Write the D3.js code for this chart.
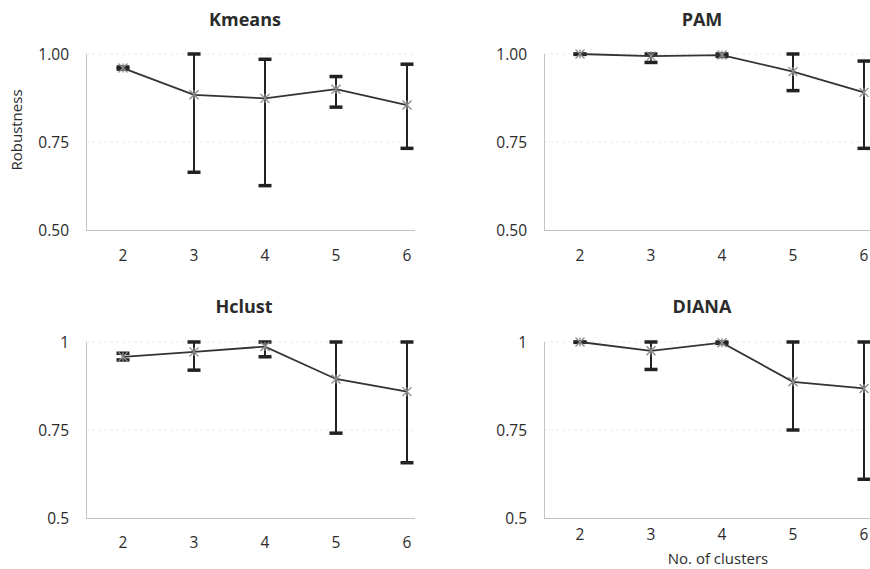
<!DOCTYPE html>
<html>
<head>
<meta charset="utf-8">
<script src="https://cdn.jsdelivr.net/npm/d3@7"></script>
<style>
  html, body { margin: 0; padding: 0; background: #fff; }
  svg { display: block; }
  text { font-family: "Open Sans", "Noto Sans", sans-serif; fill: #2b2b2b; }
</style>
</head>
<body>
<svg id="chart" width="870" height="569"></svg>
<script>
// Number of clusters on the x axis
const clusters = [2, 3, 4, 5, 6];

// Robustness (mean, lower and upper bound) per clustering method
const kmeansMean = [0.960, 0.884, 0.874, 0.900, 0.855];
const kmeansLow  = [0.957, 0.664, 0.626, 0.849, 0.732];
const kmeansHigh = [0.963, 1.000, 0.985, 0.936, 0.971];

const pamMean = [1.000, 0.994, 0.997, 0.950, 0.891];
const pamLow  = [0.999, 0.976, 0.993, 0.896, 0.732];
const pamHigh = [1.000, 1.000, 1.000, 1.000, 0.980];

const hclustMean = [0.958, 0.972, 0.987, 0.895, 0.859];
const hclustLow  = [0.949, 0.920, 0.958, 0.741, 0.657];
const hclustHigh = [0.968, 1.000, 1.000, 1.000, 1.000];

const dianaMean = [1.000, 0.975, 0.998, 0.887, 0.868];
const dianaLow  = [0.999, 0.922, 0.996, 0.750, 0.610];
const dianaHigh = [1.000, 1.000, 1.000, 1.000, 1.000];

// Y tick values and their printed labels
const yTicks = [0.5, 0.75, 1.0];
const yLabelsTop = ["0.50", "0.75", "1.00"];
const yLabelsBottom = ["0.5", "0.75", "1"];

const titles = ["Kmeans", "PAM", "Hclust", "DIANA"];

const svg = d3.select("#chart");

// Panel frames: plot box (left axis x, right end, top y of 1.0, bottom y of 0.5)
const panels = [
  { title: titles[0], mean: kmeansMean, low: kmeansLow, high: kmeansHigh, labels: yLabelsTop,
    left: 86, right: 415, x0: 123, x1: 407, top: 54, bottom: 230, titleX: 245, titleY: 26, xLabY: 261 },
  { title: titles[1], mean: pamMean, low: pamLow, high: pamHigh, labels: yLabelsTop,
    left: 544, right: 875, x0: 580, x1: 864, top: 54, bottom: 230, titleX: 702, titleY: 26, xLabY: 261 },
  { title: titles[2], mean: hclustMean, low: hclustLow, high: hclustHigh, labels: yLabelsBottom,
    left: 86, right: 415, x0: 123, x1: 407, top: 342, bottom: 518, titleX: 244, titleY: 313, xLabY: 548 },
  { title: titles[3], mean: dianaMean, low: dianaLow, high: dianaHigh, labels: yLabelsBottom,
    left: 544, right: 875, x0: 580, x1: 864, top: 342, bottom: 518, titleX: 702, titleY: 313, xLabY: 540 }
];

panels.forEach(p => {
  const g = svg.append("g");
  const x = d3.scalePoint().domain(clusters).range([p.x0, p.x1]);
  const y = d3.scaleLinear().domain([0.5, 1.0]).range([p.bottom, p.top]);

  // dashed gridlines at 0.75 and 1.0
  g.selectAll("line.grid").data(yTicks.slice(1)).join("line")
    .attr("class", "grid")
    .attr("x1", p.left).attr("x2", p.right)
    .attr("y1", d => y(d)).attr("y2", d => y(d))
    .attr("stroke", "#ebebeb").attr("stroke-width", 1)
    .attr("stroke-dasharray", "3,3");

  // axis lines
  g.append("line").attr("x1", p.left + 0.5).attr("x2", p.left + 0.5)
    .attr("y1", p.top).attr("y2", p.bottom)
    .attr("stroke", "#c4c4c4").attr("stroke-width", 1);
  g.append("line").attr("x1", p.left).attr("x2", p.right)
    .attr("y1", p.bottom + 0.5).attr("y2", p.bottom + 0.5)
    .attr("stroke", "#c4c4c4").attr("stroke-width", 1);

  // y tick labels
  g.selectAll("text.ytick").data(yTicks).join("text")
    .attr("class", "ytick")
    .attr("x", p.left - 17)
    .attr("y", d => y(d) + 5.5)
    .attr("text-anchor", "end")
    .attr("font-size", 15.5)
    .text((d, i) => p.labels[i]);

  // x tick labels
  g.selectAll("text.xtick").data(clusters).join("text")
    .attr("class", "xtick")
    .attr("x", d => x(d))
    .attr("y", p.xLabY)
    .attr("text-anchor", "middle")
    .attr("font-size", 15.5)
    .text(d => d);

  // title
  g.append("text")
    .attr("x", p.titleX).attr("y", p.titleY)
    .attr("text-anchor", "middle")
    .attr("font-size", 18).attr("font-weight", "bold")
    .text(p.title);

  const rows = clusters.map((c, i) => ({ c, m: p.mean[i], lo: p.low[i], hi: p.high[i] }));

  // error bars
  g.selectAll("line.err").data(rows).join("line")
    .attr("class", "err")
    .attr("x1", d => x(d.c)).attr("x2", d => x(d.c))
    .attr("y1", d => y(d.lo)).attr("y2", d => y(d.hi))
    .attr("stroke", "#222").attr("stroke-width", 2);
  ["lo", "hi"].forEach(k => {
    g.selectAll("line.cap-" + k).data(rows).join("line")
      .attr("class", "cap-" + k)
      .attr("x1", d => x(d.c) - 6.5).attr("x2", d => x(d.c) + 6.5)
      .attr("y1", d => y(d[k])).attr("y2", d => y(d[k]))
      .attr("stroke", "#222").attr("stroke-width", 3.5);
  });

  // mean line
  g.append("path")
    .datum(rows)
    .attr("fill", "none")
    .attr("stroke", "#333").attr("stroke-width", 1.8)
    .attr("d", d3.line().x(d => x(d.c)).y(d => y(d.m)));

  // star markers
  const s = 4.5;
  const mk = g.selectAll("g.mk").data(rows).join("g")
    .attr("class", "mk")
    .attr("transform", d => `translate(${x(d.c)},${y(d.m)})`);
  mk.append("path")
    .attr("d", `M${-s},${-s}L${s},${s}M${-s},${s}L${s},${-s}M0,${-s}L0,${s}`)
    .attr("stroke", "#8a8a8a").attr("stroke-width", 1.3).attr("fill", "none");
});

// axis titles
svg.append("text")
  .attr("transform", "translate(22,130) rotate(-90)")
  .attr("text-anchor", "middle")
  .attr("font-size", 15)
  .text("Robustness");

svg.append("text")
  .attr("x", 718).attr("y", 564)
  .attr("text-anchor", "middle")
  .attr("font-size", 15)
  .text("No. of clusters");
</script>
</body>
</html>
